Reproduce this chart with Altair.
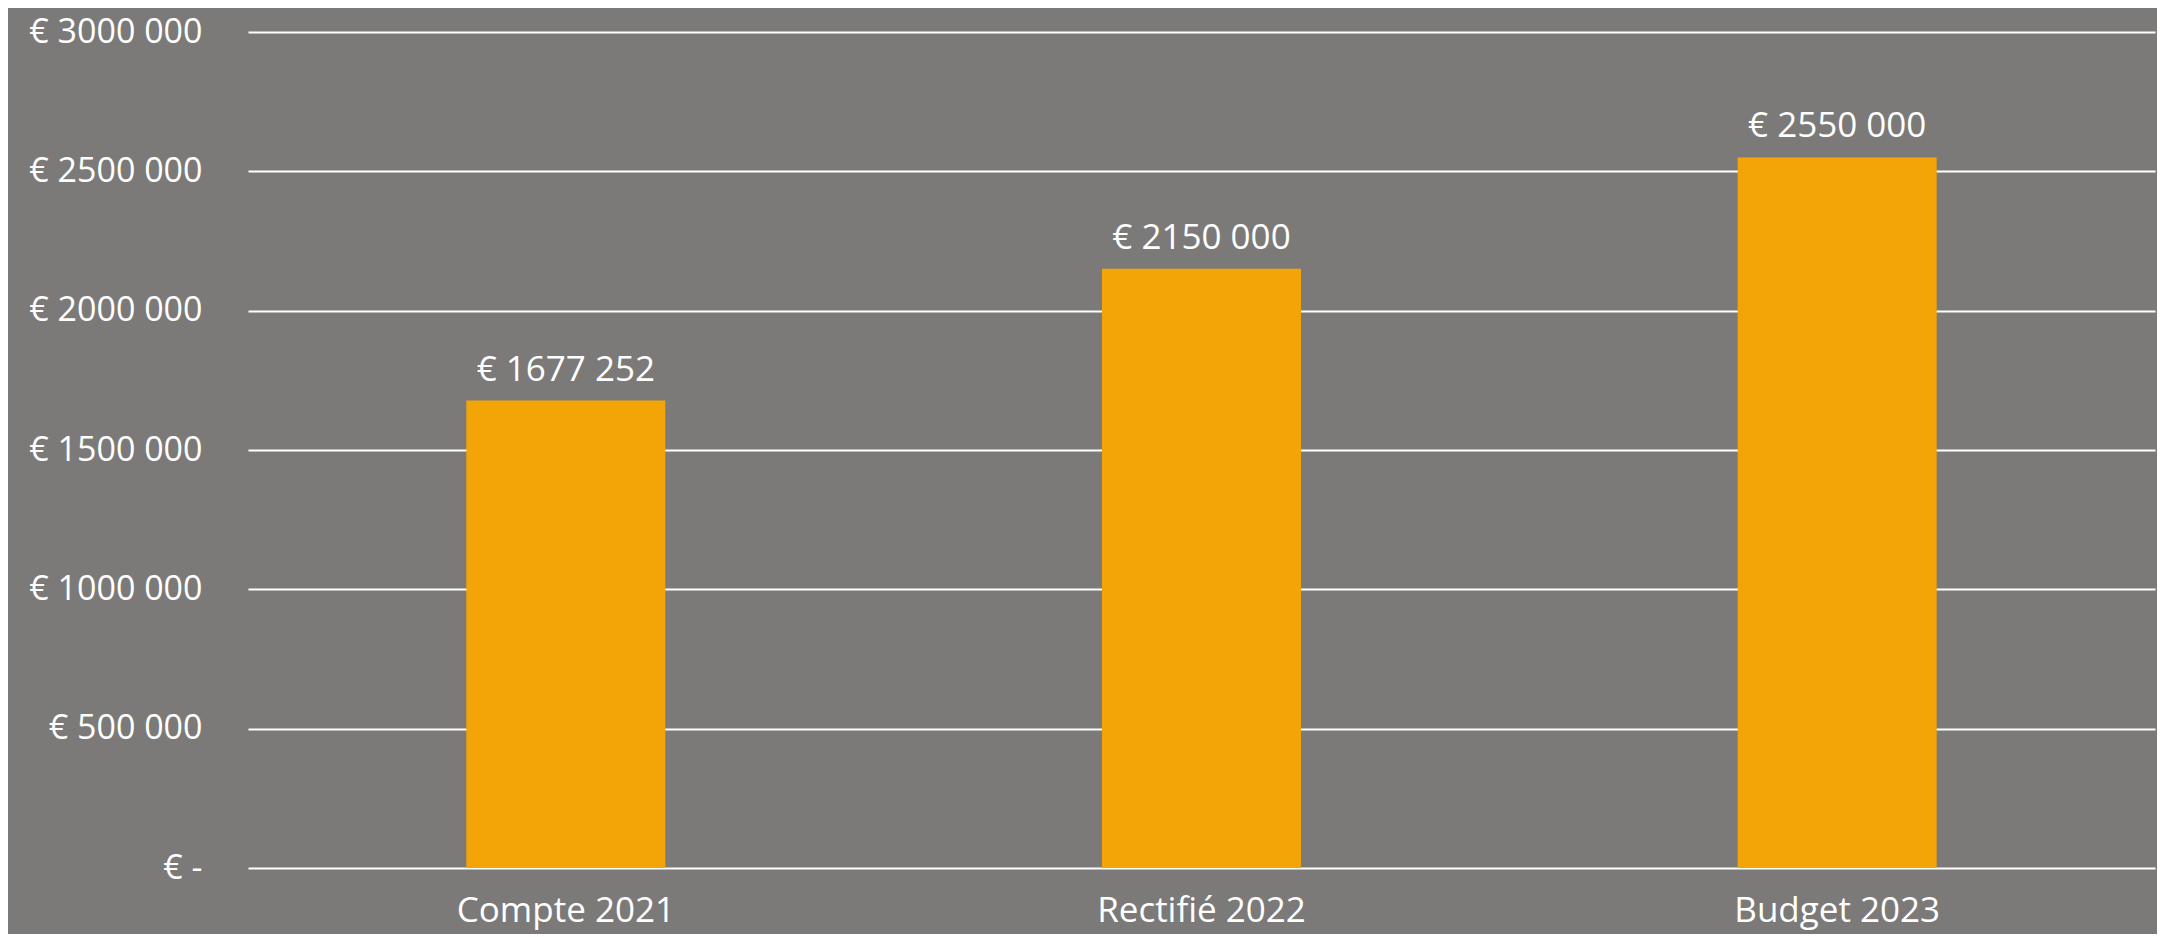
import altair as alt
import pandas as pd

categories = ["Compte 2021", "Rectifié 2022", "Budget 2023"]
values = [1677252, 2150000, 2550000]
y_ticks = [0, 500000, 1000000, 1500000, 2000000, 2500000, 3000000]

df = pd.DataFrame({"cat": categories, "val": values})

FONT = "Open Sans"

x = alt.X("cat:N", sort=categories, title=None,
          scale=alt.Scale(paddingInner=0, paddingOuter=0),
          axis=alt.Axis(labelAngle=0, labelFont=FONT, labelFontSize=35, labelColor="white",
                        labelPadding=25, labelLimit=0, ticks=False, domain=False, grid=False))
y = alt.Y("val:Q", title=None,
          scale=alt.Scale(domain=[0, 3000000], nice=False),
          axis=alt.Axis(values=y_ticks, labelFont=FONT, labelFontSize=34, labelColor="white",
                        labelPadding=46, labelLimit=0, ticks=False, domain=False, grid=True,
                        gridColor="white", gridWidth=2, gridOpacity=1,
                        labelExpr="datum.value == 0 ? '€ -' : '€ ' + floor(datum.value/1000) + ' ' + format(datum.value % 1000, '03d')"))

bars = alt.Chart(df).mark_bar(size=199, color="#F3A508").encode(x=x, y=y)

labels = alt.Chart(df).transform_calculate(
    lab="'€ ' + floor(datum.val/1000) + ' ' + format(datum.val % 1000, '03d')"
).mark_text(font=FONT, fontSize=35, color="white", baseline="alphabetic", dy=-20).encode(
    x=alt.X("cat:N", sort=categories), y="val:Q", text="lab:N")

chart = alt.layer(bars, labels).properties(
    width=1907, height=836,
    background="#7b7a78",
    padding={"left": 240, "top": 24, "right": 2, "bottom": 66},
    autosize=alt.AutoSizeParams(type="none"),
).configure_view(stroke=None)

chart.save("out.html", embed_options={"renderer": "svg", "actions": False})
